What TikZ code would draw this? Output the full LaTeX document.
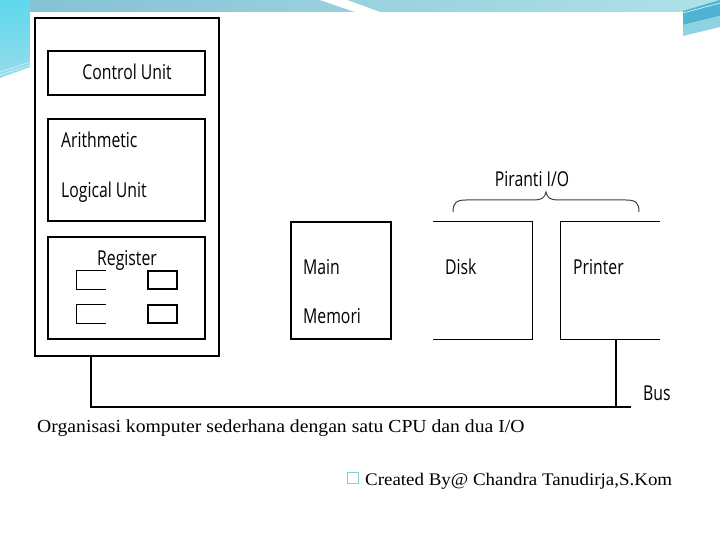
\documentclass[tikz,border=0pt]{standalone}
\usepackage{fontspec}
\newfontfamily\diag[FakeStretch=0.77]{Open Sans}
\newfontfamily\capfont[FakeStretch=1.07]{Liberation Serif}
\definecolor{bandL}{HTML}{84C0D4}
\definecolor{bandR}{HTML}{AEE2E8}
\definecolor{leftcyan}{HTML}{5ED8EE}
\definecolor{leftcyanB}{HTML}{96DCEA}
\definecolor{rdark}{HTML}{4FB4D2}
\definecolor{rlight}{HTML}{8ED2E4}
\definecolor{sqcyan}{HTML}{7ED0DA}
\definecolor{bracegray}{HTML}{404040}
\tikzset{
  box/.style={draw=black, line width=1.1pt, inner sep=0pt},
  nobox/.style={inner sep=0pt},
  edge/.style={draw=black, line width=1.1pt},
  lbl/.style={font=\diag\fontsize{20.5}{24}\selectfont, inner sep=0pt, anchor=base west},
  clbl/.style={font=\diag\fontsize{20.5}{24}\selectfont, inner sep=0pt, anchor=base},
  captxt/.style={font=\capfont\fontsize{18.4}{21}\selectfont, inner sep=0pt, anchor=base west},
  credtxt/.style={font=\capfont\fontsize{17.7}{21}\selectfont, inner sep=0pt, anchor=base west}
}
\begin{document}
\begin{tikzpicture}[x=1pt,y=-1pt]
\useasboundingbox (0,0) rectangle (720,540);
\fill[white] (0,0) rectangle (720,540);
% slide decoration
\shade[left color=bandL, right color=bandR] (0,0) rectangle (720,12);
\fill[white] (320,0) -- (347,0) -- (380,12) -- (355,12) -- cycle;
\shade[top color=leftcyan, bottom color=leftcyanB] (0,0) -- (30,0) -- (30,67) -- (0,78) -- cycle;
\draw[white, line width=0.6pt, opacity=0.7] (0,72) -- (30,62);
\draw[white, line width=0.6pt, opacity=0.7] (0,75) -- (30,65);
\fill[rdark] (683,11) -- (720,0) -- (720,16) -- (683,25) -- cycle;
\fill[rlight] (683,25) -- (720,16) -- (720,27) -- (683,36) -- cycle;
\draw[white, line width=0.5pt] (683,13) -- (720,3);
% CPU
\node[box, minimum width=184pt, minimum height=338pt] (cpu) at (127,187) {};
\node[box, minimum width=157pt, minimum height=44pt] (cu) at (126.5,73) {};
\node[box, minimum width=157pt, minimum height=102pt] (alu) at (126.5,170) {};
\node[box, minimum width=157pt, minimum height=102pt] (reg) at (126.5,288) {};
\node[clbl] (cut) at (127,80) {Control Unit};
\node[lbl] (ar) at (61,148) {Arithmetic};
\node[lbl] (lu) at (61,197) {Logical Unit};
\node[clbl] (regt) at (127,265) {Register};
% small registers
\node[nobox, minimum width=29pt, minimum height=18pt] (r1) at (91.5,280) {};
\node[nobox, minimum width=29pt, minimum height=18pt] (r3) at (91.5,314) {};
\node[box, minimum width=29pt, minimum height=18pt] (r2) at (162.5,280) {};
\node[box, minimum width=29pt, minimum height=18pt] (r4) at (162.5,314) {};
\draw[edge] (r1.north east) -- (r1.north west) -- (r1.south west) -- (r1.south east);
\draw[edge] (r3.north east) -- (r3.north west) -- (r3.south west) -- (r3.south east);
% memory
\node[box, minimum width=100pt, minimum height=117pt] (mem) at (341,280.5) {};
\node[lbl] (mt1) at (303,274) {Main};
\node[lbl] (mt2) at (303,323) {Memori};
% disk
\node[nobox, minimum width=99pt, minimum height=117pt] (disk) at (482.5,280.5) {};
\draw[edge] (disk.north west) -- (disk.north east) -- (disk.south east) -- (disk.south west);
\node[lbl] (dt) at (445,274) {Disk};
% printer
\node[nobox, minimum width=99pt, minimum height=117pt] (printer) at (610.5,280.5) {};
\draw[edge] (printer.north east) -- (printer.north west) -- (printer.south west) -- (printer.south east);
\node[lbl] (pt) at (573,274) {Printer};
% brace
\draw[bracegray, line width=1pt] (453,212) .. controls (453,203) and (456,200) .. (466,200)
  -- (534,200) .. controls (541,200) and (545,198) .. (546,192)
  .. controls (547,198) and (551,200) .. (558,200)
  -- (626,200) .. controls (636,200) and (639,203) .. (639,212);
\node[clbl] (pio) at (532,187) {Piranti I/O};
% bus
\coordinate (busL) at (91,407);
\coordinate (busR) at (631,407);
\coordinate (pr) at (616,407);
\draw[edge] (cpu.south -| busL) -- (busL) -- (busR);
\draw[edge] (printer.south -| pr) -- (pr);
\node[lbl] (bus) at (643,400) {Bus};
% captions
\node[captxt] (cap) at (37,432) {Organisasi komputer sederhana dengan satu CPU dan dua I/O};
\node[draw=sqcyan, line width=0.9pt, minimum size=11pt, inner sep=0pt] (sq) at (352.5,478) {};
\node[credtxt] (cred) at (365,485) {Created By@ Chandra Tanudirja,S.Kom};
\end{tikzpicture}
\end{document}
